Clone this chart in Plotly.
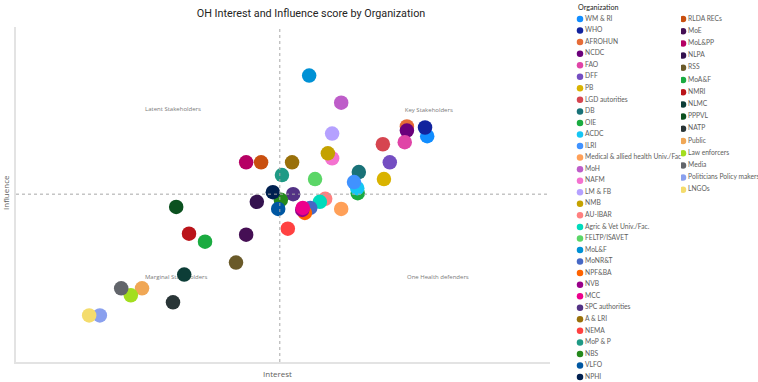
import plotly.graph_objects as go

# ---------------- data ----------------
organizations = [
    "WM & RI", "WHO", "AFROHUN", "NCDC", "FAO", "DFF", "PB", "LGD autorities",
    "DB", "OIE", "ACDC", "ILRI", "Medical & allied health Univ./Fac.", "MoH",
    "NAFM", "LM & FB", "NMB", "AU-IBAR", "Agric & Vet Univ./Fac.", "FELTP/ISAVET",
    "MoL&F", "MoNR&T", "NPF&BA", "NVB", "MCC", "SPC authorities", "A & LRI",
    "NEMA", "MoP & P", "NBS", "VLFO", "NPHI",
    "RLDA RECs", "MoE", "MoL&PP", "NLPA", "RSS", "MoA&F", "NMRI", "NLMC",
    "PPPVL", "NATP", "Public", "Law enforcers", "Media",
    "Politicians Policy makers", "LNGOs",
]
interest = [
    77.0, 76.6, 73.2, 73.2, 72.8, 70.0, 68.9, 68.7,
    64.2, 64.0, 63.9, 63.3, 60.9, 60.9,
    59.2, 59.2, 58.4, 57.9, 56.9, 56.0,
    54.9, 55.1, 54.1, 53.6, 53.7, 51.9, 51.7,
    50.9, 49.8, 49.6, 49.1, 48.1,
    45.9, 43.1, 43.1, 45.1, 41.2, 35.4, 32.4, 31.5,
    30.0, 29.4, 23.6, 21.5, 19.7,
    15.7, 13.7,
]
influence = [
    67.4, 70.0, 70.3, 69.1, 65.6, 59.6, 54.6, 65.0,
    56.7, 50.4, 51.9, 53.7, 45.7, 77.4,
    60.8, 68.2, 62.3, 48.7, 47.8, 54.6,
    85.5, 46.0, 44.5, 45.4, 46.0, 50.1, 59.6,
    39.8, 55.8, 48.4, 45.7, 50.7,
    59.6, 38.0, 59.6, 47.8, 29.7, 35.9, 38.3, 26.1,
    46.3, 17.8, 22.0, 19.9, 22.0,
    13.9, 13.9,
]
colors = [
    "#118DFF", "#12239E", "#E66C37", "#6B007B", "#E044A7", "#744EC2", "#D9B300", "#D64550",
    "#197278", "#1AAB40", "#15C6F4", "#4092FF", "#FFA058", "#BE5DC9",
    "#F472D0", "#B5A1FF", "#C4A200", "#FF8080", "#00DBBC", "#5BD667",
    "#0091D5", "#4668C5", "#FF6300", "#99008A", "#EC008C", "#533285", "#99700A",
    "#FF4141", "#1F9A85", "#25891C", "#0057A2", "#002050",
    "#C94F0F", "#450F54", "#B60064", "#34124F", "#6A5A29", "#1AAB40", "#BA141A", "#0C3D37",
    "#0B511F", "#293537", "#F0A755", "#A3DE1F", "#62656B",
    "#8AA0EE", "#F4DC6C",
]
INTEREST_AVG = 49.4
INFLUENCE_AVG = 50.1

quad_labels = ["Latent Stakeholders", "Key Stakeholders",
               "Marginal Stakeholders", "One Health defenders"]
quad_x = [29.4, 77.3, 30.0, 79.0]
quad_y = [75.4, 75.1, 25.2, 25.2]

# ---------------- layout constants (pixels) ----------------
W, H = 758, 382
PLOT_L, PLOT_R, PLOT_T, PLOT_B = 16, 550, 27, 362
LEG1_L, LEG1_R, LEG2_R = 573, 681, 758
LEG1_MARK, LEG2_MARK = 580, 683
LEG_TOP = 19
LEG_STEP1, LEG_STEP2 = 11.55, 12.2
N_COL1 = 32

FONT = "Segoe UI, Open Sans, sans-serif"
LEG_FONT = "Segoe UI, Lato, sans-serif"
LEG_FONT_SIZE = 6.7

fig = go.Figure()

# quadrant labels (beneath markers)
fig.add_trace(go.Scatter(
    x=quad_x, y=quad_y, mode="text", text=quad_labels,
    textfont=dict(size=6, color="#7A7A7A", family=FONT),
    hoverinfo="skip", showlegend=False))

for name, xi, yi, c in zip(organizations, interest, influence, colors):
    fig.add_trace(go.Scatter(
        x=[xi], y=[yi], mode="markers", name=name,
        marker=dict(size=14.5, color=c, line=dict(width=0)),
        showlegend=False))

# custom two-column legend
col1 = organizations[:N_COL1]
col2 = organizations[N_COL1:]
fig.add_trace(go.Scatter(
    x=[LEG1_MARK] * len(col1),
    y=[LEG_TOP + i * LEG_STEP1 for i in range(len(col1))],
    mode="markers+text", text=col1, textposition="middle right",
    marker=dict(size=6.5, color=colors[:N_COL1]),
    textfont=dict(size=LEG_FONT_SIZE, color="#605E5C", family=LEG_FONT),
    xaxis="x2", yaxis="y2", cliponaxis=True, hoverinfo="skip", showlegend=False))
fig.add_trace(go.Scatter(
    x=[LEG2_MARK] * len(col2),
    y=[LEG_TOP + i * LEG_STEP2 for i in range(len(col2))],
    mode="markers+text", text=col2, textposition="middle right",
    marker=dict(size=6.5, color=colors[N_COL1:]),
    textfont=dict(size=LEG_FONT_SIZE, color="#605E5C", family=LEG_FONT),
    xaxis="x3", yaxis="y2", cliponaxis=True, hoverinfo="skip", showlegend=False))

# reference (average) lines
fig.add_shape(type="line", xref="x", yref="y domain", x0=INTEREST_AVG, x1=INTEREST_AVG,
              y0=0, y1=1, line=dict(color="#A8A8A8", width=1, dash="3px,3px"))
fig.add_shape(type="line", xref="x domain", yref="y", x0=0, x1=1,
              y0=INFLUENCE_AVG, y1=INFLUENCE_AVG,
              line=dict(color="#A8A8A8", width=1, dash="3px,3px"))

hidden = dict(showgrid=False, zeroline=False, showticklabels=False, ticks="")
fig.update_layout(
    width=W, height=H, autosize=False,
    margin=dict(l=0, r=0, t=0, b=0),
    paper_bgcolor="white", plot_bgcolor="white",
    showlegend=False,
    title=dict(text="OH Interest and Influence score by Organization",
               x=311 / W, xanchor="center", y=1 - 13 / H, yanchor="middle",
               xref="paper", yref="container",
               font=dict(family="Roboto, sans-serif", size=10.8, color="#252423")),
    xaxis=dict(domain=[PLOT_L / W, PLOT_R / W], range=[0, 100], showline=True,
               linecolor="#E3E3E3", linewidth=2, **hidden),
    yaxis=dict(domain=[1 - PLOT_B / H, 1 - PLOT_T / H], range=[0, 100], showline=True,
               linecolor="#E3E3E3", linewidth=2, **hidden),
    xaxis2=dict(domain=[LEG1_L / W, LEG1_R / W], range=[LEG1_L, LEG1_R],
                anchor="y2", showline=False, **hidden),
    xaxis3=dict(domain=[LEG1_R / W, 1], range=[LEG1_R, LEG2_R],
                anchor="y2", showline=False, **hidden),
    yaxis2=dict(domain=[0, 1], range=[H, 0], anchor="x2", showline=False, **hidden),
    annotations=[
        dict(text="Organization", xref="paper", yref="paper", x=(LEG1_L + 3) / W,
             y=1 - 7 / H, xanchor="left", yanchor="middle", showarrow=False,
             font=dict(family=LEG_FONT, size=7.2, color="#252423")),
        dict(text="Interest", xref="paper", yref="paper", x=277 / W, y=1 - 373 / H,
             xanchor="center", yanchor="middle", showarrow=False,
             font=dict(family=FONT, size=8, color="#605E5C")),
        dict(text="Influence", xref="paper", yref="paper", x=6 / W, y=1 - 193 / H,
             xanchor="center", yanchor="middle", showarrow=False, textangle=-90,
             font=dict(family=FONT, size=8, color="#605E5C")),
    ],
)

fig.write_html("out.html",
               config={"displayModeBar": False},
               post_script="document.body.style.margin='0px';document.body.style.overflow='hidden';")
